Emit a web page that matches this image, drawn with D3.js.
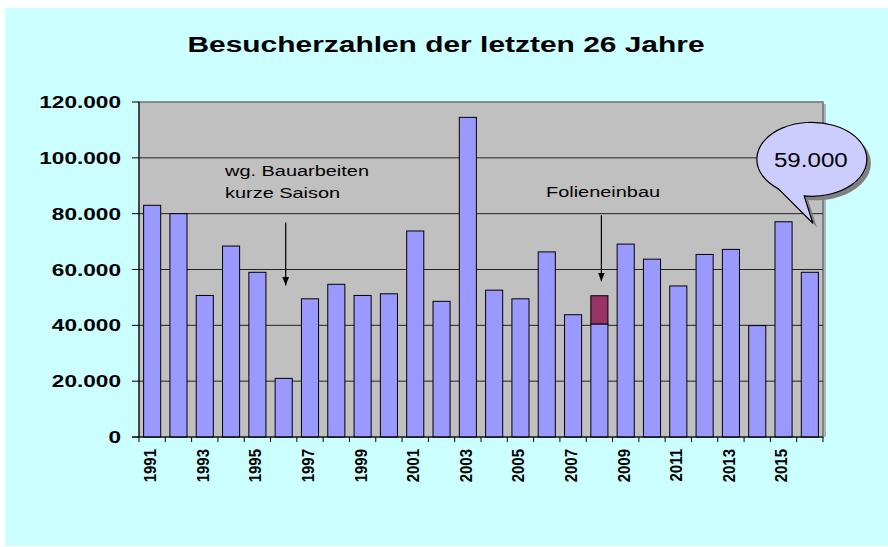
<!DOCTYPE html>
<html lang="de">
<head>
<meta charset="UTF-8">
<title>Besucherzahlen</title>
<script src="https://d3js.org/d3.v7.min.js"></script>
<style>
  body{ margin:0; background:#fff; }
  svg text{ font-family: Arial, "Liberation Sans", sans-serif; fill:#000; }
</style>
</head>
<body>
<div id="chart"></div>
<script>
// data
const years = ["1991","1992","1993","1994","1995","1996","1997","1998","1999","2000","2001","2002","2003",
               "2004","2005","2006","2007","2008","2009","2010","2011","2012","2013","2014","2015","2016"];
const visitors = [83000, 80000, 50700, 68400, 59000, 21000, 49500, 54700, 50700, 51300, 73800, 48600, 114500,
                  52600, 49500, 66300, 43800, 40500, 69100, 63700, 54100, 65400, 67200, 39900, 77100, 59000];
const extraYears = ["2008"];
const extraValues = [10100];
const yTicks = [0, 20000, 40000, 60000, 80000, 100000, 120000];
const xTickLabels = ["1991","1993","1995","1997","1999","2001","2003","2005","2007","2009","2011","2013","2015"];
const title = "Besucherzahlen der letzten 26 Jahre";
const calloutYear = "2016";
const calloutText = "59.000";

const W = 888, H = 547;
const sx = 1.33; // the picture is stretched wide
const plot = {left:139, right:823, top:102, bottom:437};

const de = d3.formatLocale({decimal:",", thousands:".", grouping:[3], currency:["","€"]});
const fmt = de.format(",");

const svg = d3.select("#chart").append("svg").attr("width", W).attr("height", H);

// background
svg.append("rect").attr("x",5).attr("y",8).attr("width",W-5).attr("height",H-9).attr("fill","#ccffff");

const x = d3.scaleBand().domain(years).range([plot.left, plot.right]).paddingInner(0.35).paddingOuter(0.175);
const y = d3.scaleLinear().domain([0,120000]).range([plot.bottom, plot.top]);
const step = x.step();

// plot area (thin shadow on the right)
svg.append("rect").attr("x",plot.right).attr("y",plot.top+2).attr("width",3).attr("height",plot.bottom-plot.top-2)
  .attr("fill","#a8b8b8");
svg.append("rect").attr("x",plot.left).attr("y",plot.top).attr("width",plot.right-plot.left).attr("height",plot.bottom-plot.top)
  .attr("fill","#c0c0c0").attr("stroke","#707070").attr("stroke-width",1.5);

// gridlines
svg.append("g").selectAll("line").data(yTicks.filter(d=>d>0 && d<120000)).join("line")
  .attr("x1",plot.left).attr("x2",plot.right).attr("y1",d=>y(d)).attr("y2",d=>y(d))
  .attr("stroke","#222").attr("stroke-width",1);

// bars
svg.append("g").selectAll("rect").data(years).join("rect")
  .attr("x",d=>x(d)).attr("width",x.bandwidth())
  .attr("y",(d,i)=>y(visitors[i])).attr("height",(d,i)=>y(0)-y(visitors[i]))
  .attr("fill","#9999ff").attr("stroke","#000").attr("stroke-width",1);

// stacked extra segment
svg.append("g").selectAll("rect").data(extraYears).join("rect")
  .attr("x",d=>x(d)).attr("width",x.bandwidth())
  .attr("y",(d,i)=>y(visitors[years.indexOf(d)]+extraValues[i]))
  .attr("height",(d,i)=>y(visitors[years.indexOf(d)])-y(visitors[years.indexOf(d)]+extraValues[i]))
  .attr("fill","#993366").attr("stroke","#000").attr("stroke-width",1);

// y axis
const yAxis = svg.append("g");
yAxis.append("line").attr("x1",plot.left).attr("x2",plot.left).attr("y1",plot.top).attr("y2",plot.bottom).attr("stroke","#000");
yAxis.selectAll("line.t").data(yTicks).join("line").attr("class","t")
  .attr("x1",plot.left-7).attr("x2",plot.left).attr("y1",d=>y(d)).attr("y2",d=>y(d)).attr("stroke","#000");
yAxis.selectAll("text").data(yTicks).join("text")
  .attr("transform",d=>`translate(121,${y(d)}) scale(${sx},1)`)
  .attr("text-anchor","end").attr("dy","0.36em")
  .style("font-size","17px").style("font-weight","bold")
  .text(d=>fmt(d));

// x axis
const xAxis = svg.append("g");
xAxis.append("line").attr("x1",plot.left-7).attr("x2",plot.right).attr("y1",plot.bottom).attr("y2",plot.bottom).attr("stroke","#000");
const bounds = years.map(d=>x(d)-(step-x.bandwidth())/2).concat([plot.right]);
xAxis.selectAll("line.t").data(bounds).join("line").attr("class","t")
  .attr("x1",d=>d).attr("x2",d=>d).attr("y1",plot.bottom).attr("y2",plot.bottom+5).attr("stroke","#000");
xAxis.selectAll("text").data(xTickLabels).join("text")
  .attr("transform",d=>`translate(${x(d)+x.bandwidth()/2-2},449) rotate(-90) scale(1,1.1)`)
  .attr("text-anchor","end").attr("dy","0.36em")
  .style("font-size","15px").style("font-weight","bold")
  .text(d=>d);

// title
svg.append("text").attr("transform",`translate(446,52) scale(${sx},1)`).attr("text-anchor","middle")
  .style("font-size","22.5px").style("font-weight","bold").text(title);

// annotations
const defs = svg.append("defs");
defs.append("marker").attr("id","arr").attr("viewBox","0 0 10 10").attr("refX",10).attr("refY",5)
  .attr("markerWidth",7).attr("markerHeight",7).attr("orient","auto")
  .append("path").attr("d","M0,1 L10,5 L0,9 Z").attr("fill","#000");

function note(lines, tx, baseVal, arrowYear, fromVal, toVal){
  const cx = x(arrowYear)+x.bandwidth()/2+2;
  svg.append("line").attr("x1",cx).attr("x2",cx).attr("y1",y(fromVal)).attr("y2",y(toVal))
    .attr("stroke","#000").attr("stroke-width",1.2).attr("marker-end","url(#arr)");
  lines.forEach((t,i)=>{
    svg.append("text").attr("transform",`translate(${tx},${y(baseVal)+i*22}) scale(${sx},1)`)
      .style("font-size","15px").text(t);
  });
}
note(["wg. Bauarbeiten","kurze Saison"], 225, 93500, "1996", 76800, 54300);
note(["Folieneinbau"], 546, 86000, "2008", 79500, 55800);

// callout bubble
const ci = years.indexOf(calloutYear);
const tipX = x(calloutYear)+x.bandwidth()/2+3, tipY = y(visitors[ci])-49;
const ecx = tipX-1, ecy = tipY-64, rx = 55, ry = 37;
const pt = a => [ecx+rx*Math.cos(a*Math.PI/180), ecy+ry*Math.sin(a*Math.PI/180)];
const A = pt(128), B = pt(98);
const bubble = `M${A[0]},${A[1]} L${tipX},${tipY} L${B[0]},${B[1]} A${rx},${ry} 0 1 0 ${A[0]},${A[1]} Z`;
svg.append("path").attr("d",bubble).attr("transform","translate(4,4)").attr("fill","#808080");
svg.append("path").attr("d",bubble).attr("fill","#ccccff").attr("stroke","#000").attr("stroke-width",1.2);
svg.append("text").attr("transform",`translate(${ecx-1},${ecy+8}) scale(1.15,1)`).attr("text-anchor","middle")
  .style("font-size","21px").text(calloutText);
</script>
</body>
</html>
